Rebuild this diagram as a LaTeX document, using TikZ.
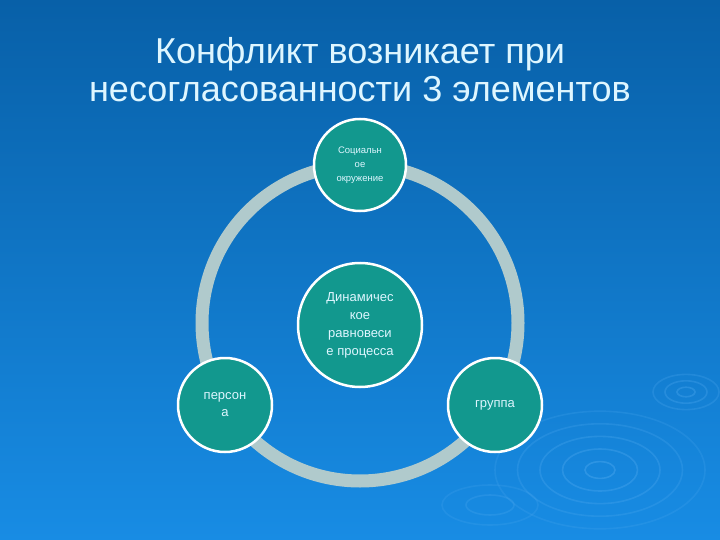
\documentclass[tikz,border=0pt]{standalone}
\usepackage{fontspec}
\setmainfont{Liberation Sans}
\definecolor{bgtop}{RGB}{8,96,168}
\definecolor{bgbot}{RGB}{24,140,228}
\definecolor{ringc}{RGB}{176,202,204}
\definecolor{tealc}{RGB}{18,152,142}
\definecolor{txtc}{RGB}{222,246,255}
\definecolor{ripple}{RGB}{80,170,240}
\begin{document}
\begin{tikzpicture}[x=1pt,y=-1pt,
  elem/.style 2 args={circle,fill=tealc,draw=white,line width=2.5pt,inner sep=0pt,align=center,text=txtc,font=\fontsize{#1}{#2}\selectfont},
  rip/.style={draw=ripple,line width=1.6pt}]
\fill[top color=bgtop,bottom color=bgbot] (0,0) rectangle (720,540);
\useasboundingbox (0,0) rectangle (720,540);
% ripples
\foreach \r/\o in {12/0.4,30/0.35,48/0.3,66/0.25,84/0.2}
  \draw[rip,opacity=\o] (600,470) ellipse ({\r*1.25} and {\r*0.7});
\foreach \r/\o in {6/0.35,14/0.3,22/0.25}
  \draw[rip,opacity=\o] (686,392) ellipse ({\r*1.5} and {\r*0.8});
\foreach \r/\o in {20/0.25,40/0.2}
  \draw[rip,opacity=\o] (490,505) ellipse ({\r*1.2} and {\r*0.5});
% title
\node[text=txtc,align=center,font=\fontsize{36}{38}\selectfont] (title) at (360,70)
  {Конфликт возникает при\\несогласованности 3 элементов};
% ring
\coordinate (ctr) at (360,323);
\draw[ringc,line width=13pt] (ctr) circle (158);
% nodes
\node[elem={9.5}{14},minimum size=92pt] (soc) at (360,165) {Социальн\\ое\\окружение};
\node[elem={13}{18},minimum size=124pt] (din) at (360,325) {Динамичес\\кое\\равновеси\\е процесса};
\node[elem={13}{17},minimum size=94pt] (pers) at (225,405) {персон\\а};
\node[elem={13}{17},minimum size=94pt] (grp) at (495,405) {группа};
\end{tikzpicture}
\end{document}
